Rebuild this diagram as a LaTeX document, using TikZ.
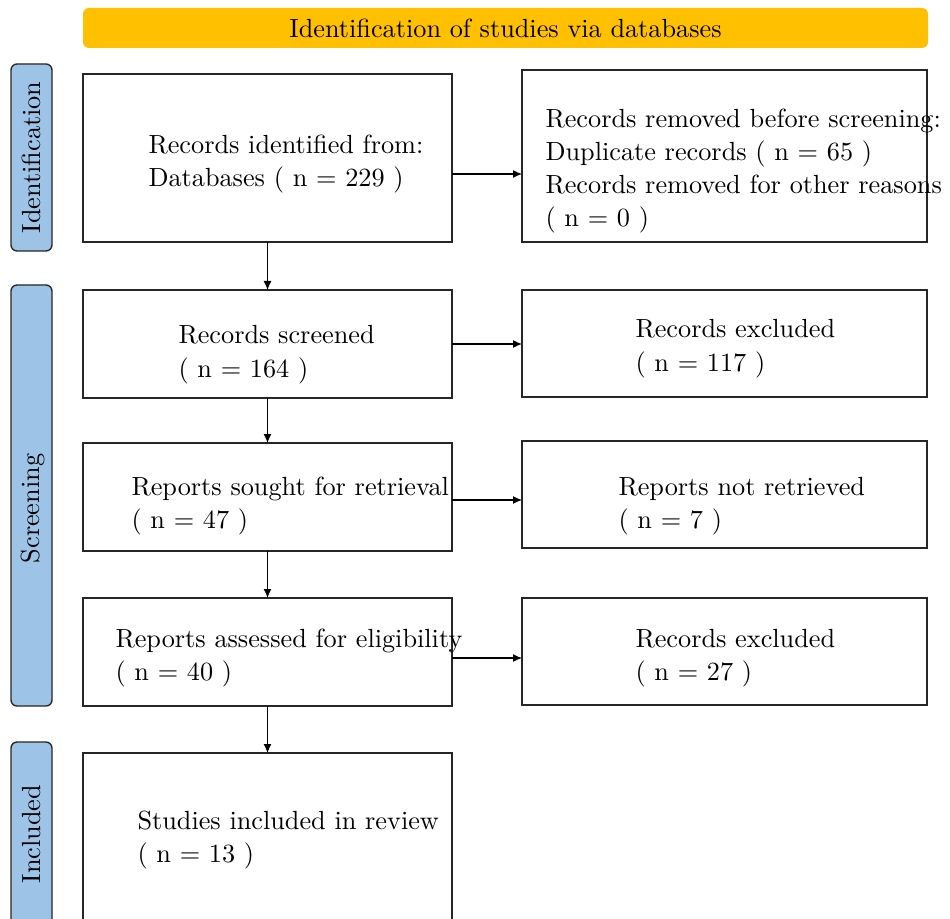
\documentclass[tikz,border=0pt]{standalone}
\usetikzlibrary{arrows.meta}
\definecolor{bannerorange}{RGB}{255,192,0}
\definecolor{stageblue}{RGB}{157,195,230}
\begin{document}
\begin{tikzpicture}[x=0.4pt,y=-0.4pt,
  every node/.style={font=\fontsize{10.5}{13.2}\selectfont},
  flowbox/.style={draw=black!85,line width=0.55pt,rectangle,inner sep=0pt,outer sep=0pt},
  banner/.style={fill=bannerorange,rounded corners=2.4pt,inner sep=0pt,
    minimum width={845*0.4pt},minimum height={40*0.4pt}},
  stage/.style={draw=black!85,fill=stageblue,line width=0.55pt,rounded corners=2.4pt,
    rotate=90,inner sep=0pt,minimum height={41*0.4pt}},
  stagetext/.style={rotate=90,inner sep=0pt},
  txt/.style={anchor=base west,align=left,inner sep=0pt},
  arr/.style={line width=0.45pt,-{Latex[length=3.6pt,width=3.2pt]}}]
\clip (0,0) rectangle (950,918);
% banner
\node[banner] (ban) at (505.5,28) {Identification of studies via databases};
% stage labels
\node[stage,minimum width={187*0.4pt}] (lid) at (31.5,157.5) {Identification};
\node[stage,minimum width={421*0.4pt}] (lsc) at (31.5,495.5) {};
\node[stagetext] (lsct) at (32.5,508.5) {Screening};
\node[stage,minimum width={184*0.4pt}] (lin) at (31.5,834) {Included};
% boxes
\node[flowbox,minimum width={369*0.4pt},minimum height={168*0.4pt}] (b1) at (267.5,158) {};
\node[flowbox,minimum width={405*0.4pt},minimum height={172*0.4pt}] (b2) at (724.5,156) {};
\node[flowbox,minimum width={369*0.4pt},minimum height={108*0.4pt}] (b3) at (267.5,344) {};
\node[flowbox,minimum width={405*0.4pt},minimum height={107*0.4pt}] (b4) at (724.5,343.5) {};
\node[flowbox,minimum width={369*0.4pt},minimum height={108*0.4pt}] (b5) at (267.5,497) {};
\node[flowbox,minimum width={405*0.4pt},minimum height={107*0.4pt}] (b6) at (724.5,494.5) {};
\node[flowbox,minimum width={369*0.4pt},minimum height={108*0.4pt}] (b7) at (267.5,652) {};
\node[flowbox,minimum width={405*0.4pt},minimum height={107*0.4pt}] (b8) at (724.5,651.5) {};
\node[flowbox,minimum width={369*0.4pt},minimum height={173*0.4pt}] (b9) at (267.5,839.5) {};
% texts (anchor at baseline of last line)
\node[txt] (t1) at (148,187) {Records identified from:\\Databases ( n = 229 )};
\node[txt] (t2) at (545,227) {Records removed before screening:\\Duplicate records ( n = 65 )\\Records removed for other reasons\\( n = 0 )};
\node[txt] (t3) at (178,377) {Records screened\\( n = 164 )};
\node[txt] (t4) at (635,371) {Records excluded\\( n = 117 )};
\node[txt] (t5) at (131,528) {Reports sought for retrieval\\( n = 47 )};
\node[txt] (t6) at (618,528) {Reports not retrieved\\( n = 7 )};
\node[txt] (t7) at (115,680) {Reports assessed for eligibility\\( n = 40 )};
\node[txt] (t8) at (635,680) {Records excluded\\( n = 27 )};
\node[txt] (t9) at (137,862) {Studies included in review\\( n = 13 )};
% arrows
\draw[arr] (b1.east |- 0,174) -- (b2.west |- 0,174);
\draw[arr] (b3.east |- 0,344) -- (b4.west |- 0,344);
\draw[arr] (b5.east |- 0,500) -- (b6.west |- 0,500);
\draw[arr] (b7.east |- 0,658) -- (b8.west |- 0,658);
\draw[arr] (b1.south) -- (b3.north);
\draw[arr] (b3.south) -- (b5.north);
\draw[arr] (b5.south) -- (b7.north);
\draw[arr] (b7.south) -- (b9.north);
\end{tikzpicture}
\end{document}
